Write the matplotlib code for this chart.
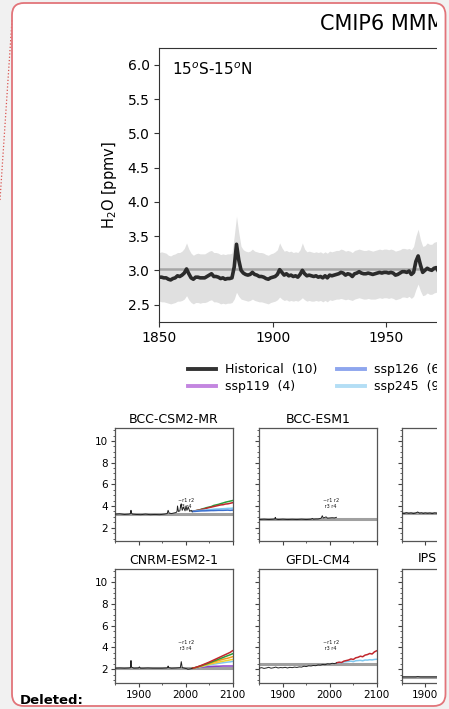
import matplotlib
matplotlib.use("Agg")
import matplotlib.pyplot as plt
from matplotlib.lines import Line2D
from matplotlib.patches import FancyBboxPatch, Rectangle
from matplotlib.transforms import IdentityTransform, Bbox
from matplotlib.ticker import MultipleLocator

# ---------------- data ----------------
main_title = "CMIP6 MMM"
region_label = "15$^o$S-15$^o$N"
y_label = "H$_2$O [ppmv]"
main_xticks = [1850, 1900, 1950]
main_yticks = [2.5, 3.0, 3.5, 4.0, 4.5, 5.0, 5.5, 6.0]

years_main = list(range(1850, 1974))
mmm_hist = [2.90, 2.90, 2.89, 2.89, 2.87, 2.86, 2.88, 2.89, 2.92, 2.91,
            2.93, 2.96, 3.02, 2.95, 2.89, 2.87, 2.90, 2.90, 2.89, 2.89,
            2.89, 2.91, 2.93, 2.95, 2.91, 2.91, 2.90, 2.88, 2.89, 2.87,
            2.88, 2.88, 2.89, 3.05, 3.38, 3.15, 3.00, 2.96, 2.94, 2.93,
            2.94, 2.97, 2.94, 2.93, 2.91, 2.91, 2.90, 2.88, 2.87, 2.89,
            2.90, 2.91, 2.94, 3.01, 2.97, 2.93, 2.95, 2.92, 2.93, 2.91,
            2.92, 2.90, 2.94, 3.00, 2.95, 2.92, 2.93, 2.92, 2.91, 2.92,
            2.90, 2.91, 2.89, 2.92, 2.89, 2.93, 2.92, 2.93, 2.94, 2.95,
            2.97, 2.96, 2.93, 2.95, 2.94, 2.91, 2.95, 2.96, 2.98, 2.96,
            2.95, 2.95, 2.96, 2.95, 2.94, 2.95, 2.96, 2.97, 2.96, 2.97,
            2.97, 2.96, 2.97, 2.96, 2.93, 2.94, 2.96, 2.98, 2.98, 2.97,
            2.99, 2.94, 2.97, 3.13, 3.21, 3.08, 2.97, 3.00, 3.03, 3.01,
            3.00, 3.03, 3.04, 2.98]
mmm_upper = [3.26, 3.27, 3.26, 3.25, 3.22, 3.21, 3.23, 3.24, 3.26, 3.26,
             3.28, 3.32, 3.40, 3.31, 3.25, 3.22, 3.24, 3.25, 3.24, 3.24,
             3.24, 3.26, 3.28, 3.29, 3.26, 3.26, 3.25, 3.23, 3.24, 3.23,
             3.24, 3.24, 3.25, 3.50, 3.79, 3.55, 3.35, 3.30, 3.28, 3.27,
             3.28, 3.31, 3.28, 3.27, 3.26, 3.26, 3.25, 3.23, 3.22, 3.24,
             3.25, 3.27, 3.30, 3.40, 3.33, 3.28, 3.29, 3.27, 3.28, 3.26,
             3.27, 3.26, 3.30, 3.40, 3.31, 3.27, 3.28, 3.27, 3.26, 3.27,
             3.26, 3.27, 3.25, 3.27, 3.25, 3.28, 3.27, 3.28, 3.29, 3.29,
             3.31, 3.30, 3.28, 3.29, 3.28, 3.26, 3.29, 3.30, 3.31, 3.30,
             3.29, 3.29, 3.30, 3.29, 3.28, 3.29, 3.30, 3.31, 3.30, 3.31,
             3.31, 3.30, 3.31, 3.30, 3.28, 3.29, 3.30, 3.32, 3.32, 3.31,
             3.32, 3.30, 3.35, 3.50, 3.60, 3.45, 3.35, 3.36, 3.40, 3.38,
             3.38, 3.41, 3.42, 3.38]
mmm_lower = [2.55, 2.54, 2.54, 2.53, 2.52, 2.51, 2.52, 2.53, 2.55, 2.55,
             2.56, 2.58, 2.63, 2.57, 2.53, 2.51, 2.53, 2.53, 2.52, 2.53,
             2.53, 2.54, 2.56, 2.57, 2.54, 2.54, 2.53, 2.51, 2.52, 2.51,
             2.52, 2.52, 2.53, 2.58, 2.68, 2.62, 2.58, 2.57, 2.56, 2.55,
             2.56, 2.58, 2.56, 2.55, 2.54, 2.54, 2.53, 2.52, 2.51, 2.53,
             2.54, 2.55, 2.57, 2.61, 2.58, 2.56, 2.57, 2.55, 2.56, 2.55,
             2.56, 2.55, 2.57, 2.60, 2.57, 2.55, 2.56, 2.55, 2.55, 2.56,
             2.55, 2.56, 2.54, 2.56, 2.54, 2.57, 2.56, 2.57, 2.58, 2.58,
             2.59, 2.58, 2.57, 2.58, 2.57, 2.56, 2.58, 2.59, 2.60, 2.59,
             2.58, 2.58, 2.59, 2.58, 2.58, 2.58, 2.59, 2.60, 2.59, 2.60,
             2.60, 2.59, 2.60, 2.59, 2.57, 2.58, 2.59, 2.61, 2.61, 2.60,
             2.62, 2.59, 2.62, 2.72, 2.80, 2.70, 2.63, 2.64, 2.67, 2.65,
             2.65, 2.67, 2.68, 2.64]
mmm_ref = 3.02

legend_labels = ["Historical  (10)", "ssp119  (4)", "ssp126  (6)", "ssp245  (9)"]
legend_colors = ["#333333", "#c386e0", "#8ea6ee", "#b3def5"]

# small panels
panel_titles = ["BCC-CSM2-MR", "BCC-ESM1", "", "CNRM-ESM2-1", "GFDL-CM4", "IPSL-CM6A-LR"]
panel_xticks = [1900, 2000, 2100]
panel_yticks = [2, 4, 6, 8, 10]
scen_years = [2015, 2020, 2025, 2030, 2035, 2040, 2045, 2050, 2055,
              2060, 2065, 2070, 2075, 2080, 2085, 2090, 2095, 2100]

bcc_csm_years = [1850, 1860, 1870, 1880, 1883, 1884, 1885, 1887, 1895, 1905, 1915, 1925,
                 1935, 1945, 1955, 1961, 1963, 1965, 1970, 1975, 1980, 1982, 1983, 1985,
                 1988, 1990, 1991, 1993, 1996, 1999, 2001, 2003, 2006, 2009, 2012, 2014]
bcc_csm_hist = [3.25, 3.28, 3.22, 3.25, 3.30, 3.60, 3.35, 3.25, 3.22, 3.20, 3.25, 3.20,
                3.22, 3.20, 3.25, 3.30, 3.60, 3.35, 3.30, 3.35, 3.40, 3.50, 4.00, 3.50,
                3.55, 4.10, 4.20, 3.60, 3.90, 3.55, 4.00, 3.60, 3.90, 3.50, 3.60, 3.50]
bcc_csm_ref = 3.28
bcc_csm_ssp370 = [3.50, 3.55, 3.60, 3.65, 3.72, 3.78, 3.85, 3.90, 3.95, 4.05, 4.10, 4.15,
                  4.22, 4.28, 4.35, 4.40, 4.45, 4.50]
bcc_csm_ssp585 = [3.50, 3.55, 3.60, 3.62, 3.70, 3.72, 3.80, 3.85, 3.90, 3.95, 4.00, 4.05,
                  4.10, 4.12, 4.18, 4.20, 4.25, 4.30]
bcc_csm_ssp245 = [3.50, 3.52, 3.55, 3.58, 3.60, 3.62, 3.65, 3.66, 3.68, 3.70, 3.72, 3.72,
                  3.74, 3.75, 3.76, 3.78, 3.78, 3.80]
bcc_csm_ssp126 = [3.50, 3.50, 3.52, 3.54, 3.55, 3.55, 3.56, 3.57, 3.58, 3.58, 3.59, 3.60,
                  3.60, 3.60, 3.61, 3.62, 3.60, 3.62]

bcc_esm_years = [1850, 1860, 1870, 1880, 1883, 1884, 1885, 1890, 1900, 1910, 1920, 1930,
                 1940, 1950, 1960, 1963, 1965, 1970, 1975, 1980, 1982, 1984, 1986, 1990,
                 1992, 1995, 2000, 2005, 2010, 2014]
bcc_esm_hist = [2.75, 2.78, 2.75, 2.78, 2.80, 2.95, 2.80, 2.75, 2.78, 2.75, 2.77, 2.75,
                2.78, 2.75, 2.78, 2.85, 2.78, 2.80, 2.80, 2.85, 2.90, 3.10, 2.90, 2.95,
                3.00, 2.88, 2.90, 2.92, 2.90, 2.95]
bcc_esm_ref = 2.80

cesm_years = [1850, 1855, 1860, 1865, 1870, 1875, 1880, 1884, 1888, 1892, 1896, 1900,
              1905, 1910, 1915, 1920, 1925, 1930, 1940, 1950, 1960, 1980, 2000, 2014]
cesm_hist = [3.35, 3.30, 3.38, 3.32, 3.36, 3.30, 3.35, 3.45, 3.33, 3.37, 3.31, 3.36,
             3.32, 3.35, 3.30, 3.36, 3.33, 3.35, 3.34, 3.35, 3.35, 3.38, 3.40, 3.42]
cesm_ref = 3.35

cnrm_years = [1850, 1860, 1870, 1880, 1883, 1884, 1885, 1890, 1900, 1902, 1904, 1910,
              1920, 1930, 1940, 1950, 1960, 1962, 1963, 1964, 1970, 1980, 1989, 1991,
              1993, 1998, 2003, 2005, 2008, 2012, 2014]
cnrm_hist = [2.10, 2.12, 2.10, 2.12, 2.15, 2.80, 2.20, 2.10, 2.12, 2.22, 2.10, 2.10,
             2.12, 2.10, 2.10, 2.10, 2.12, 2.15, 2.30, 2.15, 2.10, 2.12, 2.15, 2.70,
             2.15, 2.10, 2.05, 2.00, 2.02, 2.05, 2.08]
cnrm_ref = 2.12
cnrm_ssp585 = [2.10, 2.15, 2.22, 2.30, 2.38, 2.47, 2.56, 2.65, 2.75, 2.85, 2.95, 3.05,
               3.15, 3.25, 3.35, 3.45, 3.55, 3.70]
cnrm_ssp370 = [2.10, 2.15, 2.20, 2.28, 2.35, 2.43, 2.50, 2.58, 2.66, 2.75, 2.83, 2.92,
               3.00, 3.08, 3.17, 3.25, 3.33, 3.42]
cnrm_ssp460 = [2.10, 2.14, 2.20, 2.26, 2.32, 2.40, 2.46, 2.53, 2.60, 2.67, 2.73, 2.80,
               2.86, 2.92, 2.97, 3.02, 3.08, 3.15]
cnrm_ssp434 = [2.10, 2.13, 2.18, 2.23, 2.28, 2.34, 2.40, 2.45, 2.50, 2.55, 2.60, 2.65,
               2.70, 2.74, 2.78, 2.82, 2.86, 2.90]
cnrm_ssp245 = [2.10, 2.13, 2.17, 2.21, 2.26, 2.30, 2.35, 2.39, 2.43, 2.47, 2.50, 2.54,
               2.57, 2.60, 2.63, 2.66, 2.68, 2.72]
cnrm_ssp119 = [2.10, 2.12, 2.15, 2.18, 2.20, 2.22, 2.24, 2.25, 2.26, 2.27, 2.28, 2.28,
               2.29, 2.30, 2.30, 2.30, 2.30, 2.30]

gfdl_years = [1850, 1855, 1860, 1865, 1870, 1875, 1880, 1885, 1890, 1895, 1900, 1905,
              1910, 1915, 1920, 1925, 1930, 1935, 1940, 1945, 1950, 1955, 1960, 1965,
              1970, 1975, 1980, 1985, 1990, 1995, 2000, 2005, 2010, 2014]
gfdl_hist = [2.10, 2.15, 2.08, 2.12, 2.18, 2.10, 2.14, 2.20, 2.12, 2.16, 2.14, 2.18,
             2.12, 2.18, 2.15, 2.20, 2.17, 2.22, 2.20, 2.28, 2.25, 2.32, 2.30, 2.35,
             2.33, 2.40, 2.38, 2.45, 2.42, 2.50, 2.48, 2.55, 2.52, 2.58]
gfdl_ref = 2.45
gfdl_ssp585 = [2.60, 2.65, 2.62, 2.75, 2.80, 2.85, 2.95, 2.90, 3.05, 3.10, 3.20, 3.15,
               3.30, 3.35, 3.45, 3.40, 3.60, 3.70]
gfdl_ssp245 = [2.60, 2.62, 2.60, 2.68, 2.70, 2.72, 2.75, 2.70, 2.78, 2.80, 2.82, 2.78,
               2.85, 2.84, 2.88, 2.86, 2.90, 2.92]

ipsl_years = [1850, 1880, 1884, 1890, 1920, 1950, 1980, 2014]
ipsl_hist = [1.30, 1.30, 1.33, 1.30, 1.30, 1.30, 1.32, 1.30]
ipsl_ref = 1.30

scen_colors = {"ssp119": "#8b3fc5", "ssp126": "#3a6fd0", "ssp245": "#7fc8f0",
               "ssp434": "#f2cf2e", "ssp460": "#f29a1c", "ssp370": "#2a9d3a",
               "ssp585": "#c1272d"}

# ---------------- layout helpers ----------------
W, H = 449, 709
CLIP_X = 437
fig = plt.figure(figsize=(W / 100, H / 100), dpi=100)
fig.patch.set_facecolor("#f1f1f1")
clip_bbox = Bbox([[0, 0], [CLIP_X, H]])


def rect(x0, y0, x1, y1):
    """image-pixel box (top-left origin) -> figure fraction [l, b, w, h]"""
    return [x0 / W, 1 - y1 / H, (x1 - x0) / W, (y1 - y0) / H]


def clip_text(t):
    t.set_clip_box(clip_bbox)
    t.set_clip_on(True)
    return t


# comment box background
box_bg = FancyBboxPatch((12, 3), 433.5, 703, boxstyle="round,pad=0,rounding_size=12",
                        fc="white", ec="none", transform=IdentityTransform(), zorder=-5)
fig.add_artist(box_bg)
fig.add_artist(Line2D([0, 12], [H - 200, H - 20], transform=IdentityTransform(),
                      color="#d9534f", ls=":", lw=0.9, zorder=-4))

# ---------------- main axes ----------------
ax = fig.add_axes(rect(159.3, 47.7, CLIP_X, 321.7))
ax.fill_between(years_main, mmm_lower, mmm_upper, color="#e0e0e0", lw=0)
ax.axhline(mmm_ref, color="#a6a6a6", lw=1.8)
ax.plot(years_main, mmm_hist, color="#2b2b2b", lw=2.6)
ax.set_xlim(1850, 1972.3)
ax.set_ylim(2.25, 6.25)
ax.set_xticks(main_xticks)
ax.set_yticks(main_yticks)
ax.set_yticklabels([f"{v:.1f}" for v in main_yticks])
ax.tick_params(labelsize=10, length=3.5, color="#333333")
ax.spines["right"].set_visible(False)
for s in ["left", "bottom", "top"]:
    ax.spines[s].set_color("#333333")
ax.set_ylabel(y_label, fontsize=10.5, labelpad=6)
ax.text(0.045, 0.918, region_label, transform=ax.transAxes, fontsize=11, va="center")

clip_text(fig.text(320 / W, 1 - 30 / H, main_title, fontsize=15, ha="left", va="baseline"))

handles = [Line2D([], [], color=c, lw=2.8) for c in legend_colors]
leg = fig.legend(handles, legend_labels, loc="upper left",
                 bbox_to_anchor=(188 / W, 1 - 363.5 / H), ncol=2, frameon=False,
                 fontsize=9, handlelength=2.2, handletextpad=0.75, columnspacing=1.6,
                 labelspacing=0.3, borderpad=0, borderaxespad=0)
for t in leg.get_texts():
    clip_text(t)

# ---------------- small panels ----------------
col_x = [115, 259.3, 401.7]
row_y = [(428.3, 541), (569.3, 682.7)]
pw = 117.5

panels = [
    (bcc_csm_years, bcc_csm_hist, bcc_csm_ref,
     [("ssp370", bcc_csm_ssp370), ("ssp585", bcc_csm_ssp585),
      ("ssp245", bcc_csm_ssp245), ("ssp126", bcc_csm_ssp126)]),
    (bcc_esm_years, bcc_esm_hist, bcc_esm_ref, []),
    (cesm_years, cesm_hist, cesm_ref, []),
    (cnrm_years, cnrm_hist, cnrm_ref,
     [("ssp119", cnrm_ssp119), ("ssp245", cnrm_ssp245), ("ssp434", cnrm_ssp434),
      ("ssp460", cnrm_ssp460), ("ssp370", cnrm_ssp370), ("ssp585", cnrm_ssp585)]),
    (gfdl_years, gfdl_hist, gfdl_ref,
     [("ssp245", gfdl_ssp245), ("ssp585", gfdl_ssp585)]),
    (ipsl_years, ipsl_hist, ipsl_ref, []),
]

for i, (yrs, hist, ref, scen) in enumerate(panels):
    r, c = divmod(i, 3)
    y0, y1 = row_y[r]
    x0 = col_x[c]
    x1 = x0 + pw
    if c == 2:
        x1 = CLIP_X
    pa = fig.add_axes(rect(x0, y0, x1, y1))
    pa.axhline(ref, color="#a0a0a0", lw=2.2, zorder=1)
    pa.plot(yrs, hist, color="#222222", lw=0.7, zorder=3)
    for name, vals in scen:
        pa.plot(scen_years, vals, color=scen_colors[name], lw=1.1, zorder=2)
    if c < 2:
        pa.text(1985, 3.8, "~r1 r2\n r3 r4", fontsize=3.5, color="#111111", zorder=4)
    pa.set_xlim(1850, 1850 + 250 * (x1 - x0) / pw)
    pa.set_ylim(0.77, 11.17)
    pa.set_xticks([t for t in panel_xticks if t <= 1850 + 250 * (x1 - x0) / pw])
    pa.xaxis.set_minor_locator(MultipleLocator(50))
    pa.set_yticks(panel_yticks)
    pa.yaxis.set_minor_locator(MultipleLocator(0.5))
    pa.tick_params(which="major", labelsize=7.5, length=3, color="#444444", pad=2)
    pa.tick_params(which="minor", length=1.5, color="#444444")
    if c > 0:
        pa.set_yticklabels([])
    if r == 0:
        pa.set_xticklabels([])
    for s in pa.spines.values():
        s.set_color("#555555")
        s.set_linewidth(0.9)
    if c == 2:
        pa.spines["right"].set_visible(False)
    if panel_titles[i]:
        if c == 2:
            # title centred over the full (cropped) panel width
            tt = fig.text((x0 + pw / 2) / W, 1 - (y0 - 4) / H, panel_titles[i],
                          fontsize=9, ha="center", va="bottom")
            clip_text(tt)
        else:
            pa.set_title(panel_titles[i], fontsize=9, pad=4)

fig.text(20 / W, 1 - 701 / H, "Deleted:", fontsize=9.5, fontweight="bold",
         ha="left", va="center")

# white strip between the cropped content and the comment box edge
fig.add_artist(Rectangle((CLIP_X, 8), 445.5 - CLIP_X, 693, transform=IdentityTransform(),
                         fc="white", ec="none", zorder=50))
box_edge = FancyBboxPatch((12, 3), 433.5, 703, boxstyle="round,pad=0,rounding_size=12",
                          fc="none", ec="#e2747a", lw=1.3,
                          transform=IdentityTransform(), zorder=51)
fig.add_artist(box_edge)

fig.savefig("out.png", dpi=100, facecolor=fig.get_facecolor())
